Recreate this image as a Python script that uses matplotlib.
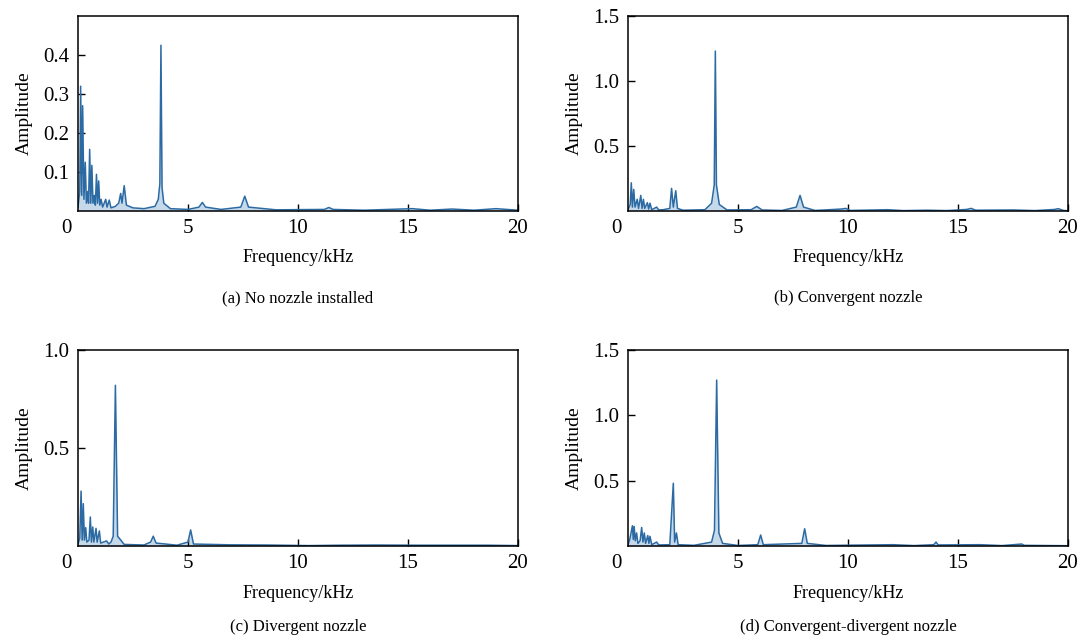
import matplotlib
matplotlib.use("Agg")
import matplotlib.pyplot as plt

plt.rcParams['font.family'] = ['Liberation Serif', 'DejaVu Serif']
plt.rcParams['mathtext.fontset'] = 'stix'

# ---------------- data ----------------
freq_a = [0.00, 0.08, 0.12, 0.17, 0.21, 0.27, 0.33, 0.38, 0.44, 0.48, 0.53, 0.58, 0.63, 0.68,
          0.74, 0.79, 0.84, 0.89, 0.94, 0.99, 1.05, 1.12, 1.26, 1.32, 1.42, 1.50, 1.70, 1.85,
          1.94, 2.00, 2.10, 2.20, 2.50, 3.00, 3.50, 3.65, 3.72, 3.77, 3.82, 3.90, 4.20, 5.00,
          5.50, 5.65, 5.80, 6.50, 7.40, 7.58, 7.75, 9.00, 11.2, 11.4, 11.6, 13.0, 15.2, 16.0,
          17.0, 18.0, 19.0, 20.0]
amp_a = [0.010, 0.050, 0.320, 0.040, 0.270, 0.030, 0.125, 0.020, 0.050, 0.020, 0.158, 0.020,
         0.117, 0.020, 0.040, 0.015, 0.094, 0.020, 0.077, 0.015, 0.030, 0.010, 0.030, 0.010,
         0.028, 0.008, 0.012, 0.020, 0.045, 0.020, 0.065, 0.015, 0.008, 0.006, 0.012, 0.030,
         0.070, 0.425, 0.060, 0.020, 0.006, 0.004, 0.010, 0.022, 0.010, 0.004, 0.010, 0.038,
         0.010, 0.003, 0.004, 0.009, 0.004, 0.002, 0.006, 0.002, 0.005, 0.002, 0.006, 0.002]

freq_b = [0.00, 0.10, 0.15, 0.20, 0.26, 0.32, 0.42, 0.48, 0.58, 0.64, 0.70, 0.76, 0.88, 0.94,
          1.00, 1.08, 1.30, 1.40, 1.60, 1.90, 1.98, 2.06, 2.17, 2.25, 2.50, 3.50, 3.80, 3.92,
          3.97, 4.02, 4.15, 4.50, 5.60, 5.85, 6.10, 7.00, 7.65, 7.82, 7.98, 8.50, 9.70, 9.90,
          10.1, 11.8, 12.5, 13.6, 14.5, 15.4, 15.6, 15.8, 17.5, 18.5, 19.4, 19.55, 19.8, 20.0]
amp_b = [0.010, 0.050, 0.217, 0.030, 0.166, 0.030, 0.090, 0.020, 0.120, 0.020, 0.090, 0.020,
         0.064, 0.015, 0.060, 0.010, 0.030, 0.008, 0.010, 0.020, 0.174, 0.030, 0.156, 0.020,
         0.006, 0.010, 0.060, 0.200, 1.230, 0.200, 0.050, 0.008, 0.010, 0.035, 0.008, 0.004,
         0.030, 0.120, 0.030, 0.004, 0.015, 0.020, 0.004, 0.010, 0.003, 0.006, 0.003, 0.012,
         0.020, 0.006, 0.008, 0.003, 0.012, 0.018, 0.004, 0.002]

freq_c = [0.00, 0.08, 0.14, 0.19, 0.24, 0.29, 0.35, 0.40, 0.50, 0.56, 0.61, 0.67, 0.72, 0.82,
          0.87, 0.97, 1.03, 1.30, 1.40, 1.50, 1.60, 1.70, 1.80, 1.98, 2.10, 3.00, 3.30, 3.42,
          3.55, 4.50, 5.00, 5.12, 5.25, 6.90, 8.60, 10.5, 11.9, 13.6, 15.4, 18.6, 20.0]
amp_c = [0.010, 0.040, 0.280, 0.030, 0.216, 0.030, 0.094, 0.020, 0.030, 0.148, 0.020, 0.097,
         0.020, 0.090, 0.020, 0.077, 0.015, 0.026, 0.010, 0.020, 0.050, 0.820, 0.050, 0.025,
         0.008, 0.005, 0.020, 0.050, 0.015, 0.004, 0.020, 0.082, 0.010, 0.006, 0.005, 0.002,
         0.004, 0.005, 0.004, 0.004, 0.002]

freq_d = [0.00, 0.08, 0.20, 0.24, 0.28, 0.33, 0.39, 0.45, 0.55, 0.62, 0.68, 0.74, 0.80, 0.90,
          0.95, 1.00, 1.08, 1.30, 1.40, 1.90, 2.06, 2.12, 2.20, 2.28, 3.00, 3.80, 3.93, 4.03,
          4.13, 4.30, 5.00, 5.90, 6.03, 6.15, 7.90, 8.03, 8.15, 9.00, 10.0, 12.05, 13.0, 13.9,
          14.0, 14.1, 16.0, 17.0, 17.9, 18.0, 20.0]
amp_d = [0.010, 0.050, 0.155, 0.050, 0.150, 0.040, 0.100, 0.020, 0.040, 0.142, 0.030, 0.100,
         0.020, 0.080, 0.020, 0.074, 0.010, 0.030, 0.008, 0.010, 0.480, 0.030, 0.100, 0.010,
         0.005, 0.030, 0.120, 1.270, 0.100, 0.020, 0.004, 0.010, 0.084, 0.010, 0.020, 0.132,
         0.020, 0.004, 0.006, 0.010, 0.003, 0.010, 0.030, 0.008, 0.010, 0.003, 0.015, 0.005,
         0.002]

captions = ["(a) No nozzle installed", "(b) Convergent nozzle",
            "(c) Divergent nozzle", "(d) Convergent-divergent nozzle"]
ylims = [0.5, 1.5, 1.0, 1.5]
yticks = [[0.1, 0.2, 0.3, 0.4], [0.5, 1.0, 1.5], [0.5, 1.0], [0.5, 1.0, 1.5]]
xticks = [5, 10, 15, 20]
series = [(freq_a, amp_a), (freq_b, amp_b), (freq_c, amp_c), (freq_d, amp_d)]

# ---------------- figure ----------------
W, H = 1083, 643
fig = plt.figure(figsize=(W / 100, H / 100), dpi=100)

boxes = [(78, 16, 518, 211), (628, 16, 1068, 211),
         (78, 350, 518, 546), (628, 350, 1068, 546)]
xlab_y = [257, 257, 593, 593]
cap_y = [298, 298, 627, 627]

for i, (l, t, r, b) in enumerate(boxes):
    ax = fig.add_axes([l / W, 1 - b / H, (r - l) / W, (b - t) / H])
    f, a = series[i]
    ax.fill_between(f, 0, a, color='#5b93c8', alpha=0.35, linewidth=0)
    ax.plot(f, a, color='#2c6aa3', linewidth=1.1)
    ax.set_xlim(0, 20)
    ax.set_ylim(0, ylims[i])
    ax.set_xticks(xticks)
    ax.set_yticks(yticks[i])
    ax.set_yticklabels([f"{v:g}" if ylims[i] < 1 else f"{v:.1f}" for v in yticks[i]])
    ax.tick_params(direction='in', length=5, width=1, labelsize=15, pad=6, colors='black')
    for s in ax.spines.values():
        s.set_linewidth(1.1)
        s.set_color('black')
    ax.annotate('0', xy=(0, 0), xycoords='axes fraction', xytext=(-12, -8),
                textcoords='offset pixels', ha='center', va='top', fontsize=15)
    ax.set_ylabel('Amplitude', fontsize=14, labelpad=8)
    cx = (l + r) / 2 / W
    fig.text(cx, 1 - xlab_y[i] / H, 'Frequency/kHz', ha='center', va='center', fontsize=13)
    fig.text(cx, 1 - cap_y[i] / H, captions[i], ha='center', va='center', fontsize=12)

fig.savefig('out.png', dpi=100)
